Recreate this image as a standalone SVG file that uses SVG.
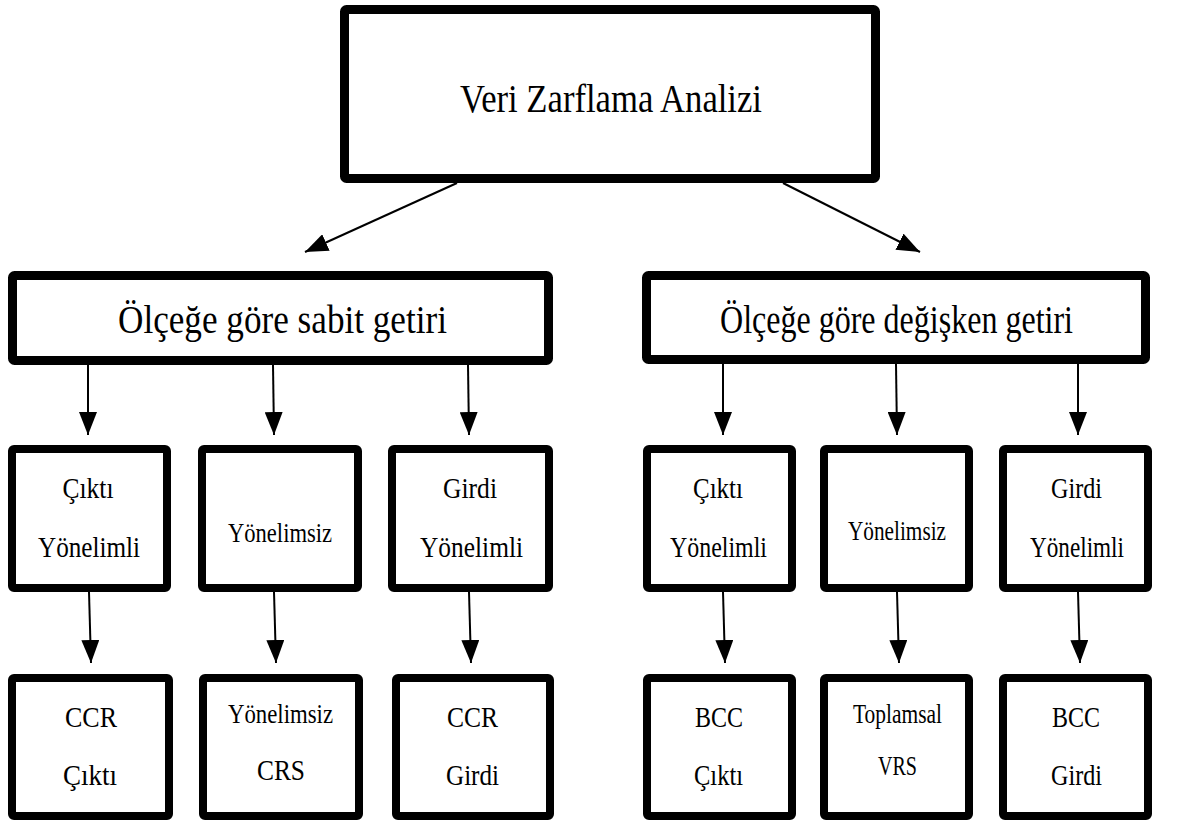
<svg xmlns="http://www.w3.org/2000/svg" width="1190" height="821" viewBox="0 0 1190 821">
<style>
.box{fill:#fff;stroke:#000;stroke-linejoin:round}
.big{stroke-width:9}
.sm{stroke-width:8}
.t{font-family:'Liberation Serif','Times New Roman',serif;fill:#000;text-anchor:middle}
.t40{font-size:40px}
.t39{font-size:39px}
.t30{font-size:30px}
.t28{font-size:28px}
.conn{stroke:#000;stroke-width:2;fill:none;marker-end:url(#ah)}
</style>
<defs>
<marker id="ah" markerUnits="userSpaceOnUse" markerWidth="24" markerHeight="18" refX="23" refY="9" orient="auto">
<path d="M0,0 L23,9 L0,18 z" fill="#000"/>
</marker>
</defs>
<rect width="1190" height="821" fill="#fff"/>
<g id="connectors">
<line class="conn" x1="457" y1="183" x2="305" y2="252"/>
<line class="conn" x1="783" y1="183" x2="920" y2="252"/>
<line class="conn" x1="88" y1="365" x2="88" y2="435"/>
<line class="conn" x1="273" y1="365" x2="274" y2="435"/>
<line class="conn" x1="468" y1="365" x2="469" y2="435"/>
<line class="conn" x1="723" y1="364" x2="723" y2="435"/>
<line class="conn" x1="896" y1="364" x2="897" y2="435"/>
<line class="conn" x1="1078" y1="364" x2="1078" y2="435"/>
<line class="conn" x1="89" y1="592" x2="91" y2="663"/>
<line class="conn" x1="274" y1="592" x2="276" y2="663"/>
<line class="conn" x1="469" y1="592" x2="471" y2="663"/>
<line class="conn" x1="723" y1="592" x2="725" y2="663"/>
<line class="conn" x1="897" y1="592" x2="899" y2="663"/>
<line class="conn" x1="1078" y1="592" x2="1080" y2="663"/>
</g>
<g id="nodes" font-family="Liberation Serif">
<g id="root">
<rect class="box big" x="344.5" y="9.5" width="531" height="169" rx="2"/>
<text class="t t40" x="611" y="112" textLength="302" lengthAdjust="spacingAndGlyphs">Veri Zarflama Analizi</text>
</g>
<g id="sabit">
<rect class="box big" x="12.5" y="275.5" width="536" height="85" rx="2"/>
<text class="t t39" x="282.5" y="333" textLength="329" lengthAdjust="spacingAndGlyphs">Ölçeğe göre sabit getiri</text>
</g>
<g id="degisken">
<rect class="box big" x="646.5" y="275.5" width="499" height="84" rx="2"/>
<text class="t t39" x="896.5" y="333" textLength="353" lengthAdjust="spacingAndGlyphs">Ölçeğe göre değişken getiri</text>
</g>
<g id="s-cikti">
<rect class="box sm" x="12" y="449" width="155" height="139" rx="2"/>
<text class="t t30" x="88" y="498" textLength="51" lengthAdjust="spacingAndGlyphs">Çıktı</text>
<text class="t t30" x="89" y="557" textLength="102" lengthAdjust="spacingAndGlyphs">Yönelimli</text>
</g>
<g id="s-yonelimsiz">
<rect class="box sm" x="202" y="449" width="156" height="139" rx="2"/>
<text class="t t28" x="280" y="542" textLength="104" lengthAdjust="spacingAndGlyphs">Yönelimsiz</text>
</g>
<g id="s-girdi">
<rect class="box sm" x="392" y="449" width="157" height="139" rx="2"/>
<text class="t t30" x="470" y="498" textLength="54" lengthAdjust="spacingAndGlyphs">Girdi</text>
<text class="t t30" x="471.5" y="557" textLength="103" lengthAdjust="spacingAndGlyphs">Yönelimli</text>
</g>
<g id="d-cikti">
<rect class="box sm" x="647" y="449" width="145" height="139" rx="2"/>
<text class="t t30" x="718" y="498" textLength="50" lengthAdjust="spacingAndGlyphs">Çıktı</text>
<text class="t t30" x="718.5" y="557" textLength="97" lengthAdjust="spacingAndGlyphs">Yönelimli</text>
</g>
<g id="d-yonelimsiz">
<rect class="box sm" x="824" y="449" width="145" height="139" rx="2"/>
<text class="t t28" x="897" y="540" textLength="98" lengthAdjust="spacingAndGlyphs">Yönelimsiz</text>
</g>
<g id="d-girdi">
<rect class="box sm" x="1003" y="449" width="145" height="139" rx="2"/>
<text class="t t30" x="1076.5" y="498" textLength="51" lengthAdjust="spacingAndGlyphs">Girdi</text>
<text class="t t30" x="1077" y="557" textLength="94" lengthAdjust="spacingAndGlyphs">Yönelimli</text>
</g>
<g id="ccr-cikti">
<rect class="box sm" x="12" y="678" width="157" height="138" rx="2"/>
<text class="t t30" x="91" y="727" textLength="52" lengthAdjust="spacingAndGlyphs">CCR</text>
<text class="t t30" x="90" y="785" textLength="54" lengthAdjust="spacingAndGlyphs">Çıktı</text>
</g>
<g id="crs">
<rect class="box sm" x="203" y="678" width="156" height="138" rx="2"/>
<text class="t t28" x="280.5" y="723" textLength="105" lengthAdjust="spacingAndGlyphs">Yönelimsiz</text>
<text class="t t30" x="281" y="780" textLength="48" lengthAdjust="spacingAndGlyphs">CRS</text>
</g>
<g id="ccr-girdi">
<rect class="box sm" x="396" y="678" width="154" height="138" rx="2"/>
<text class="t t30" x="472.5" y="727" textLength="51" lengthAdjust="spacingAndGlyphs">CCR</text>
<text class="t t30" x="472.5" y="785" textLength="53" lengthAdjust="spacingAndGlyphs">Girdi</text>
</g>
<g id="bcc-cikti">
<rect class="box sm" x="647" y="678" width="145" height="138" rx="2"/>
<text class="t t30" x="719" y="727" textLength="48" lengthAdjust="spacingAndGlyphs">BCC</text>
<text class="t t30" x="718.5" y="785" textLength="49" lengthAdjust="spacingAndGlyphs">Çıktı</text>
</g>
<g id="vrs">
<rect class="box sm" x="824" y="678" width="145" height="138" rx="2"/>
<text class="t t28" x="897.5" y="723" textLength="89" lengthAdjust="spacingAndGlyphs">Toplamsal</text>
<text class="t t28" x="897.5" y="775" textLength="39" lengthAdjust="spacingAndGlyphs">VRS</text>
</g>
<g id="bcc-girdi">
<rect class="box sm" x="1003" y="678" width="145" height="138" rx="2"/>
<text class="t t30" x="1076" y="727" textLength="48" lengthAdjust="spacingAndGlyphs">BCC</text>
<text class="t t30" x="1076.5" y="785" textLength="51" lengthAdjust="spacingAndGlyphs">Girdi</text>
</g>
</g>
</svg>
